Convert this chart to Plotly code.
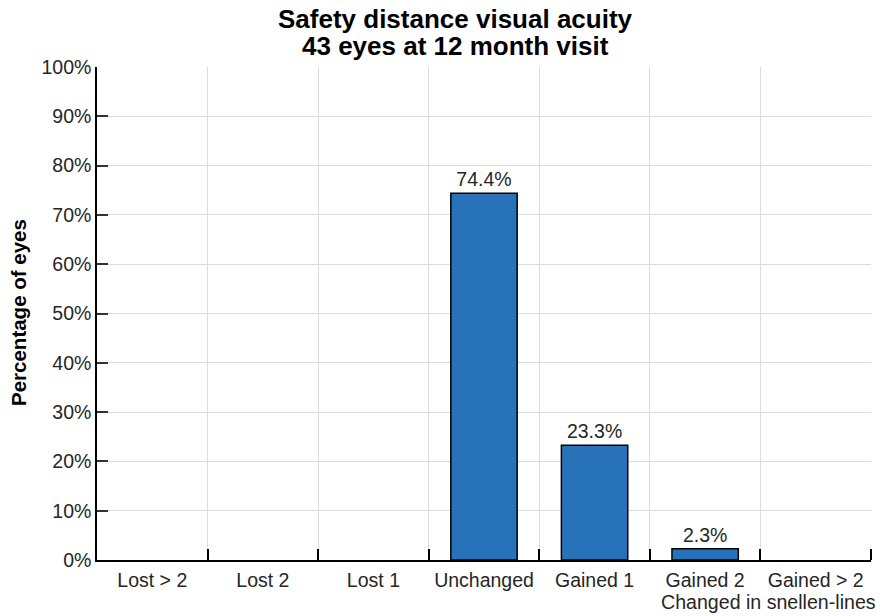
import plotly.graph_objects as go

categories = ["Lost > 2", "Lost 2", "Lost 1", "Unchanged", "Gained 1", "Gained 2", "Gained > 2"]
percent_eyes = [0.0, 0.0, 0.0, 74.4, 23.3, 2.3, 0.0]
y_ticks = [0, 10, 20, 30, 40, 50, 60, 70, 80, 90, 100]

x_pos = list(range(len(categories)))
bounds = [i + 0.5 for i in x_pos]
labels = [f"{v:.1f}%" if v > 0 else "" for v in percent_eyes]
edge_w = [1.5 if v > 0 else 0 for v in percent_eyes]
y_text = [f"{t}%" for t in y_ticks]

FONT = "Liberation Sans, Arial, Helvetica, sans-serif"
TXT = "#262626"
GRID = "#dcdcdc"

# plot area in page px: x 97..871, y 67..560
W, H = 880, 616
L, R, T, B = 97, 9, 67, 56
PW, PH = W - L - R, H - T - B


def px(xpage):
    return (xpage - L) / PW


def py(ypage):
    return 1 - (ypage - T) / PH


fig = go.Figure(go.Bar(
    x=x_pos, y=percent_eyes, width=0.6,
    marker=dict(color="#2872b9", line=dict(color="black", width=edge_w)),
    text=labels, textposition="outside", cliponaxis=False,
    textfont=dict(size=19.5, color=TXT, family=FONT),
    hoverinfo="skip",
))

fig.update_layout(
    width=W, height=H,
    paper_bgcolor="white", plot_bgcolor="white",
    margin=dict(l=L, r=R, t=T, b=B),
    font=dict(family=FONT, size=19.5, color=TXT),
    showlegend=False,
    xaxis=dict(
        range=[-0.5, 6.5], tickmode="array", tickvals=x_pos, ticktext=categories,
        ticks="", showgrid=False, showline=True, linecolor="black", linewidth=1.5,
        zeroline=False, tickfont=dict(size=19.5, color=TXT, family=FONT),
        ticklabelstandoff=2,
        minor=dict(tickmode="array", tickvals=bounds, ticks="inside", ticklen=11,
                   tickwidth=1.5, tickcolor="black", showgrid=True, gridcolor=GRID, gridwidth=1.2),
    ),
    yaxis=dict(
        range=[0, 100], tickmode="array", tickvals=y_ticks, ticktext=y_text,
        ticks="inside", ticklen=11, tickwidth=1.5, tickcolor="#333",
        showgrid=True, gridcolor=GRID, gridwidth=1.2,
        showline=True, linecolor="black", linewidth=1.5, zeroline=False,
        tickfont=dict(size=19.5, color=TXT, family=FONT),
    ),
)

fig.add_annotation(
    text="<b>Safety distance visual acuity</b>", xref="paper", yref="paper",
    x=px(455), y=py(19), xanchor="center", yanchor="middle", showarrow=False,
    font=dict(size=26, color="black", family=FONT),
)
fig.add_annotation(
    text="<b>43 eyes at 12 month visit</b>", xref="paper", yref="paper",
    x=px(455), y=py(46), xanchor="center", yanchor="middle", showarrow=False,
    font=dict(size=26, color="black", family=FONT),
)
fig.add_annotation(
    text="<b>Percentage of eyes</b>", xref="paper", yref="paper",
    x=px(18), y=py(313), xanchor="center", yanchor="middle", showarrow=False,
    textangle=-90, font=dict(size=20.5, color="black", family=FONT),
)
fig.add_annotation(
    text="Changed in snellen-lines", xref="paper", yref="paper",
    x=px(878), y=py(602), xanchor="right", yanchor="middle", showarrow=False,
    font=dict(size=19.6, color=TXT, family=FONT),
)

fig.write_html("out.html", config={"displayModeBar": False},
               post_script="document.body.style.margin='0';")
